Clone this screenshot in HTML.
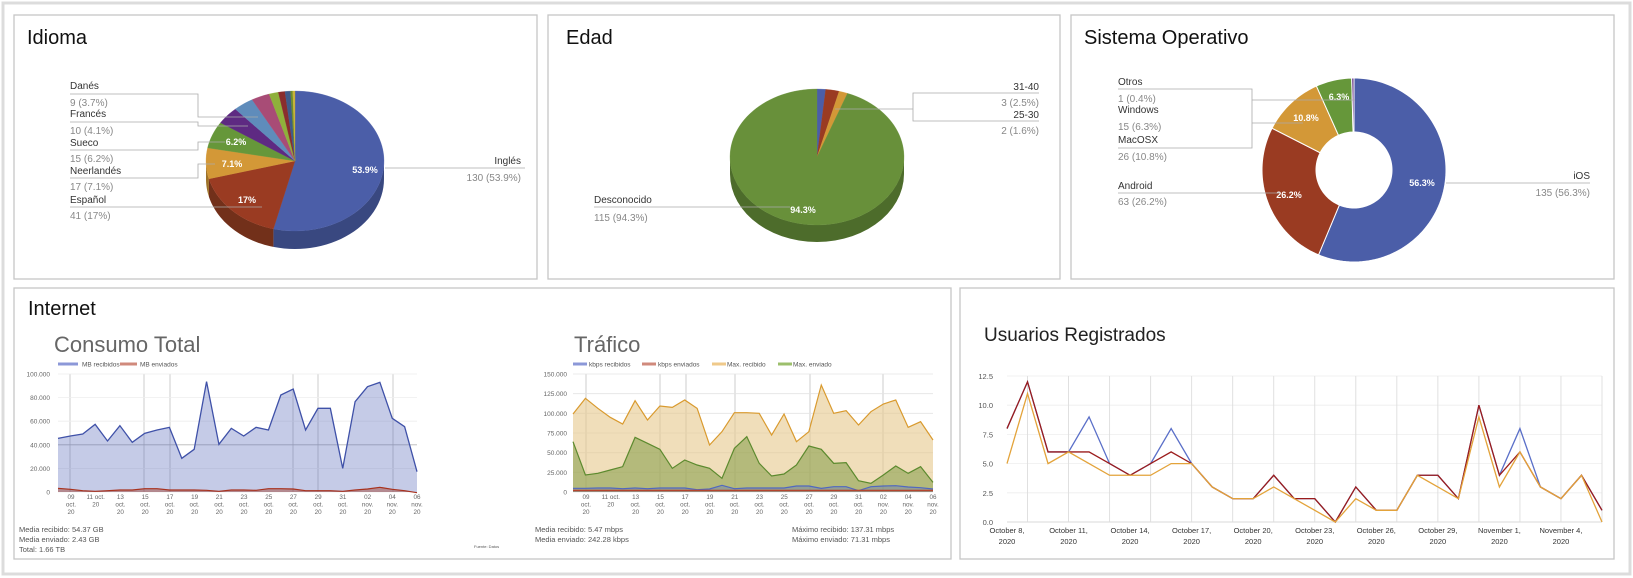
<!DOCTYPE html>
<html><head><meta charset="utf-8">
<style>
html,body{margin:0;padding:0;background:#fff;}
svg{display:block;font-family:"Liberation Sans",sans-serif;}
</style></head>
<body>
<svg id="s" width="1633" height="578" viewBox="0 0 1633 578" xmlns="http://www.w3.org/2000/svg">
<rect x="0" y="0" width="1633" height="578" fill="#fff"/>
<rect x="3" y="3" width="1627" height="571" fill="none" stroke="#dcdcdc" stroke-width="3"/>
<g fill="#fff" stroke="#c6c6c6" stroke-width="1.3">
<rect x="14" y="15" width="523" height="264"/>
<rect x="548" y="15" width="512" height="264"/>
<rect x="1071" y="15" width="543" height="264"/>
<rect x="14" y="288" width="937" height="271"/>
<rect x="960" y="288" width="654" height="271"/>
</g>
<g font-size="20" fill="#111">
<text x="27" y="44">Idioma</text>
<text x="566" y="44">Edad</text>
<text x="1084" y="44">Sistema Operativo</text>
<text x="28" y="315">Internet</text>
<text x="984" y="341" font-size="19" fill="#222">Usuarios Registrados</text>
</g>
<g font-size="22" fill="#666">
<text x="54" y="352">Consumo Total</text>
<text x="574" y="352">Tráfico</text>
</g>
<g id="dyn"></g>
<!-- Idioma labels -->
<g font-size="10" fill="#333">
<g stroke="#aaa" stroke-width="0.8" fill="none">
<polyline points="70,94 198,94 198,117 258,117"/>
<polyline points="70,122 198,122 198,126 248,126"/>
<polyline points="70,150 198,150 198,142 225,142"/>
<polyline points="70,178 198,178 198,164 215,164"/>
<polyline points="70,207 262,207"/>
<polyline points="385,168 525,168"/>
</g>
<text x="70" y="89">Danés</text><text x="70" y="106" fill="#888">9 (3.7%)</text>
<text x="70" y="117">Francés</text><text x="70" y="134" fill="#888">10 (4.1%)</text>
<text x="70" y="146">Sueco</text><text x="70" y="162" fill="#888">15 (6.2%)</text>
<text x="70" y="174">Neerlandés</text><text x="70" y="190" fill="#888">17 (7.1%)</text>
<text x="70" y="203">Español</text><text x="70" y="219" fill="#888">41 (17%)</text>
<text x="521" y="164" text-anchor="end">Inglés</text><text x="521" y="181" text-anchor="end" fill="#888">130 (53.9%)</text>
</g>
<!-- Edad labels -->
<g font-size="10" fill="#333">
<g stroke="#aaa" stroke-width="0.8" fill="none">
<polyline points="1039,93 913,93 913,121 1039,121"/>
<polyline points="913,109 835,109"/>
<polyline points="594,207 790,207"/>
</g>
<text x="1039" y="90" text-anchor="end">31-40</text><text x="1039" y="106" text-anchor="end" fill="#888">3 (2.5%)</text>
<text x="1039" y="118" text-anchor="end">25-30</text><text x="1039" y="134" text-anchor="end" fill="#888">2 (1.6%)</text>
<text x="594" y="203">Desconocido</text><text x="594" y="221" fill="#888">115 (94.3%)</text>
</g>
<!-- SO labels -->
<g font-size="10" fill="#333">
<g stroke="#aaa" stroke-width="0.8" fill="none">
<polyline points="1118,89 1252,89 1252,148 1118,148"/>
<polyline points="1252,100 1355,100"/>
<polyline points="1252,123 1303,123"/>
<polyline points="1118,193 1280,193"/>
<polyline points="1446,183 1590,183"/>
</g>
<text x="1118" y="85">Otros</text><text x="1118" y="102" fill="#888">1 (0.4%)</text>
<text x="1118" y="113">Windows</text><text x="1118" y="130" fill="#888">15 (6.3%)</text>
<text x="1118" y="143">MacOSX</text><text x="1118" y="160" fill="#888">26 (10.8%)</text>
<text x="1118" y="189">Android</text><text x="1118" y="205" fill="#888">63 (26.2%)</text>
<text x="1590" y="179" text-anchor="end">iOS</text><text x="1590" y="196" text-anchor="end" fill="#888">135 (56.3%)</text>
</g>
<!-- Internet footers -->
<g font-size="7.5" fill="#555">
<text x="19" y="532">Media recibido: 54.37 GB</text>
<text x="19" y="542">Media enviado: 2.43 GB</text>
<text x="19" y="552">Total: 1.66 TB</text>
<text x="474" y="548" font-size="4">Fuente: Datos</text>
<text x="535" y="532">Media recibido: 5.47 mbps</text>
<text x="535" y="542">Media enviado: 242.28 kbps</text>
<text x="792" y="532">Máximo recibido: 137.31 mbps</text>
<text x="792" y="542">Máximo enviado: 71.31 mbps</text>
</g>
</svg>
<script>
(function(){
var NS="http://www.w3.org/2000/svg";var g=document.getElementById("dyn");
function el(t,a,txt){var e=document.createElementNS(NS,t);for(var k in a)e.setAttribute(k,a[k]);if(txt!=null)e.textContent=txt;g.appendChild(e);return e;}
function P(cx,cy,rx,ry,t){var r=t*Math.PI/180;return [cx+rx*Math.sin(r),cy-ry*Math.cos(r)];}
function pie3d(cx,cy,rx,ry,d,sl){
  var a=0,segs=[];
  sl.forEach(function(s){var b=a+s[0]*3.6;segs.push([a,b,s[1],s[2]]);a=b;});
  // sides
  segs.forEach(function(s){var a0=Math.max(s[0],90),b0=Math.min(s[1],270);if(b0<=a0)return;
    var p=[],i,N=30;for(i=0;i<=N;i++){var t=a0+(b0-a0)*i/N;var q=P(cx,cy,rx,ry,t);p.push(q[0]+","+q[1]);}
    for(i=N;i>=0;i--){var t=a0+(b0-a0)*i/N;var q=P(cx,cy,rx,ry,t);p.push(q[0]+","+(q[1]+d));}
    el("polygon",{points:p.join(" "),fill:s[3]});});
  segs.forEach(function(s){var p=[cx+","+cy],N=Math.max(2,Math.ceil((s[1]-s[0])/3));
    for(var i=0;i<=N;i++){var q=P(cx,cy,rx,ry,s[0]+(s[1]-s[0])*i/N);p.push(q[0]+","+q[1]);}
    el("polygon",{points:p.join(" "),fill:s[2],stroke:s[2],"stroke-width":0.3});});
}
pie3d(295,161,89,70,18,[[53.9,"#4b5ea8","#394880"],[17,"#9a3b22","#72301a"],[7.1,"#d39837","#9e7229"],[6.2,"#66973a","#4c702b"],[4.1,"#5e2a82","#45205f"],[3.7,"#5f8cbb","#46688b"],[3.3,"#a84c76","#7d3858"],[1.7,"#8fb03b","#6a832c"],[1.2,"#8a2d2d","#672121"],[1.0,"#3f5a8a","#2f4367"],[0.4,"#6e8e2a","#526a1f"],[0.4,"#c9b33a","#96862b"]]);
pie3d(817,157,87,68,17,[[1.6,"#4b5ea8","#394880"],[2.5,"#9a3b22","#72301a"],[1.6,"#d39837","#9e7229"],[94.3,"#68903a","#4d6c2b"]]);
// donut
(function(){var cx=1354,cy=170,R=92,r=38,a=0;
 [[56.3,"#4b5ea8"],[26.2,"#9a3b22"],[10.8,"#d39837"],[6.3,"#66973a"],[0.4,"#5e2a82"]].forEach(function(s){
  var b=a+s[0]*3.6,p=[],N=Math.max(2,Math.ceil((b-a)/2)),i;
  for(i=0;i<=N;i++){var t=(a+(b-a)*i/N)*Math.PI/180;p.push((cx+R*Math.sin(t))+","+(cy-R*Math.cos(t)));}
  for(i=N;i>=0;i--){var t=(a+(b-a)*i/N)*Math.PI/180;p.push((cx+r*Math.sin(t))+","+(cy-r*Math.cos(t)));}
  el("polygon",{points:p.join(" "),fill:s[1],stroke:"#fff","stroke-width":1});a=b;});})();
function lbl(x,y,t,fs){el("text",{x:x,y:y,"text-anchor":"middle","font-size":fs||9,fill:"#fff","font-weight":"bold"},t);}
lbl(365,173,"53.9%");lbl(247,203,"17%");lbl(232,167,"7.1%");lbl(236,145,"6.2%");
lbl(803,213,"94.3%");
lbl(1422,186,"56.3%");lbl(1289,198,"26.2%");lbl(1306,121,"10.8%");lbl(1339,100,"6.3%");
// ===== Consumo Total =====
(function(){
 var x0=58,x1=417,y0=492,yt=374,n=30;
 function X(i){return x0+(x1-x0)*i/(n-1);}
 [70,144,170,293,318,393].forEach(function(x){el("line",{x1:x,y1:374,x2:x,y2:492,stroke:"#ccc","stroke-width":1});});
 [0,1,2,3,4,5].forEach(function(k){var y=y0-(y0-yt)*k/5;el("line",{x1:x0,y1:y,x2:x1,y2:y,stroke:k==2?"#b8b8b8":"#eee","stroke-width":0.8});
   el("text",{x:50,y:y+2.5,"text-anchor":"end","font-size":6.5,fill:"#666"},k==0?"0":(k*20)+".000");});
 var zy=[295,288,282,253,303,257,307,280,270,262,355,328,125,313,265,288,262,270,165,147,270,205,205,385,185,140,127,235,260,395];
 var pts=zy.map(function(v,i){return [X(i),340+v/3];});
 var ps=pts.map(function(p){return p.join(",");}).join(" ");
 el("polygon",{points:X(0)+","+y0+" "+ps+" "+X(n-1)+","+y0,fill:"rgba(75,94,180,0.32)"});
 el("polyline",{points:ps,fill:"none",stroke:"#3f51a8","stroke-width":1.3});
 var rz=[445,448,452,454,452,450,450,446,446,450,450,450,451,454,450,450,451,446,446,447,452,452,452,454,450,447,442,448,452,458];
 var rs=rz.map(function(v,i){return X(i)+","+(340+v/3);}).join(" ");
 el("polygon",{points:X(0)+","+y0+" "+rs+" "+X(n-1)+","+y0,fill:"rgba(160,60,40,0.45)"});
 el("polyline",{points:rs,fill:"none",stroke:"#a8321e","stroke-width":1.2});
 el("line",{x1:58,y1:364,x2:78,y2:364,stroke:"#8c98d8","stroke-width":3});
 el("text",{x:82,y:366.5,"font-size":6.5,fill:"#555"},"MB recibidos");
 el("line",{x1:120,y1:364,x2:137,y2:364,stroke:"#d08a7c","stroke-width":3});
 el("text",{x:140,y:366.5,"font-size":6.5,fill:"#555"},"MB enviados");
 var L=[["09","oct.","20"],["11 oct.","20"],["13","oct.","20"],["15","oct.","20"],["17","oct.","20"],["19","oct.","20"],["21","oct.","20"],["23","oct.","20"],["25","oct.","20"],["27","oct.","20"],["29","oct.","20"],["31","oct.","20"],["02","nov.","20"],["04","nov.","20"],["06","nov.","20"]];
 L.forEach(function(l,k){var x=71+k*(417-71)/14;l.forEach(function(t,j){el("text",{x:x,y:499+j*7.5,"text-anchor":"middle","font-size":6.3,fill:"#666"},t);});});
})();
// ===== Tráfico =====
(function(){
 var x0=573,x1=933,y0=492,yt=374,n=30;
 function X(i){return x0+(x1-x0)*i/(n-1);}
 [586,660,686,735,810,883].forEach(function(x){el("line",{x1:x,y1:374,x2:x,y2:492,stroke:"#ccc","stroke-width":1});});
 [0,1,2,3,4,5,6].forEach(function(k){var y=y0-(y0-yt)*k/6;el("line",{x1:x0,y1:y,x2:x1,y2:y,stroke:"#e4e4e4","stroke-width":0.8});
   el("text",{x:567,y:y+2.5,"text-anchor":"end","font-size":6.5,fill:"#666"},k==0?"0":(k*25)+".000");});
 function S(arr,fill,stroke){var ps=arr.map(function(v,i){return X(i)+","+(340+v/3);}).join(" ");
   el("polygon",{points:X(0)+","+y0+" "+ps+" "+X(n-1)+","+y0,fill:fill});
   el("polyline",{points:ps,fill:"none",stroke:stroke,"stroke-width":1.2});}
 var o=[222,175,205,232,252,182,240,198,202,180,205,315,275,218,218,220,285,222,305,275,135,220,212,255,215,192,180,262,245,300];
 var gr=[305,405,400,390,380,292,310,328,385,360,375,385,415,325,290,370,408,402,375,318,328,370,368,422,430,405,378,400,380,427];
 var b=[445,445,444,444,446,444,446,444,444,444,449,447,436,446,444,444,444,444,438,438,445,440,440,452,440,438,437,441,443,447];
 S(o,"rgba(230,200,140,0.6)","#d99a2e");
 S(gr,"rgba(120,150,60,0.5)","#5c8a2e");
 S(b,"rgba(90,110,190,0.35)","#5068c0");
 el("line",{x1:x0,y1:490.5,x2:x1,y2:490.5,stroke:"#b5452e","stroke-width":1.4});
 var lg=[[573,"#8c98d8","kbps recibidos",589],[642,"#d08a7c","kbps enviados",658],[712,"#efc98a","Max. recibido",727],[778,"#9cbf6c","Max. enviado",793]];
 lg.forEach(function(l){el("line",{x1:l[0],y1:364,x2:l[0]+14,y2:364,stroke:l[1],"stroke-width":3});el("text",{x:l[3],y:366.5,"font-size":6.5,fill:"#555"},l[2]);});
 var L=[["09","oct.","20"],["11 oct.","20"],["13","oct.","20"],["15","oct.","20"],["17","oct.","20"],["19","oct.","20"],["21","oct.","20"],["23","oct.","20"],["25","oct.","20"],["27","oct.","20"],["29","oct.","20"],["31","oct.","20"],["02","nov.","20"],["04","nov.","20"],["06","nov.","20"]];
 L.forEach(function(l,k){var x=586+k*(933-586)/14;l.forEach(function(t,j){el("text",{x:x,y:499+j*7.5,"text-anchor":"middle","font-size":6.3,fill:"#666"},t);});});
})();
// ===== Usuarios =====
(function(){
 var x0=1007,x1=1602,y0=522,yt=376,n=30;
 function X(i){return x0+(x1-x0)*i/(n-1);}
 function Y(v){return y0-(y0-yt)*v/12.5;}
 [0,1,2,3,4,5].forEach(function(k){var v=k*2.5;el("line",{x1:x0,y1:Y(v),x2:x1,y2:Y(v),stroke:k==0?"#ccc":"#eee","stroke-width":0.8});
   el("text",{x:993,y:Y(v)+3,"text-anchor":"end","font-size":7.5,fill:"#555"},v.toFixed(1));});
 for(var i=1;i<n;i+=2){el("line",{x1:X(i),y1:yt,x2:X(i),y2:y0,stroke:"#ddd","stroke-width":0.9});}
 var mo=["October 8,","October 11,","October 14,","October 17,","October 20,","October 23,","October 26,","October 29,","November 1,","November 4,"];
 mo.forEach(function(m,k){var x=X(k*3);el("text",{x:x,y:533,"text-anchor":"middle","font-size":7.5,fill:"#333"},m);el("text",{x:x,y:544,"text-anchor":"middle","font-size":7.5,fill:"#333"},"2020");});
 function line(v,c,w){el("polyline",{points:v.map(function(a,i){return X(i)+","+Y(a);}).join(" "),fill:"none",stroke:c,"stroke-width":w});}
 line([8,12,6,6,9,5,4,5,8,5,3,2,2,4,2,2,0,3,1,1,4,4,2,10,4,8,3,2,4,1],"#5a6fc8",1.3);
 line([8,12,6,6,6,5,4,5,6,5,3,2,2,4,2,2,0,3,1,1,4,4,2,10,4,6,3,2,4,1],"#9b1c1c",1.3);
 line([5,11,5,6,5,4,4,4,5,5,3,2,2,3,2,1,0,2,1,1,4,3,2,9,3,6,3,2,4,0],"#e3a33a",1.3);
})();
})();
</script>
</body></html>
